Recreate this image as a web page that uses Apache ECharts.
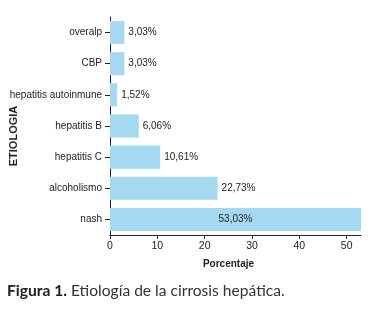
<!DOCTYPE html>
<html>
<head>
<meta charset="utf-8">
<script src="https://cdn.jsdelivr.net/npm/echarts@6/dist/echarts.min.js"></script>
<style>
  html, body { margin: 0; padding: 0; background: #fff; }
  #chart { width: 373px; height: 322px; }
</style>
</head>
<body>
<div id="chart"></div>
<script>
const categories = ["nash", "alcoholismo", "hepatitis C", "hepatitis B", "hepatitis autoinmune", "CBP", "overalp"];
const values = [53.03, 22.73, 10.61, 6.06, 1.52, 3.03, 3.03];
const xTicks = [0, 10, 20, 30, 40, 50];

const FONT = "'Liberation Sans', Arial, sans-serif";

const myChart = echarts.init(document.getElementById("chart"));

const option = {
  animation: false,
  grid: { left: 110, right: 12, top: 17, bottom: 87, outerBoundsMode: "none" },
  xAxis: {
    type: "value",
    min: 0,
    max: 53.03,
    interval: 10,
    name: "Porcentaje",
    nameLocation: "middle",
    nameGap: 24,
    nameMoveOverlap: false,
    nameTextStyle: { fontFamily: FONT, fontSize: 10, fontWeight: "bold", color: "#222", padding: [0, 14, 0, 0] },
    axisLine: { show: true, lineStyle: { color: "#222", width: 1 } },
    axisTick: { show: true, length: 4, lineStyle: { color: "#222" } },
    axisLabel: {
      fontFamily: FONT, fontSize: 10.5, color: "#222", margin: 6,
      showMaxLabel: false,
      formatter: v => (xTicks.includes(v) ? String(v) : "")
    },
    splitLine: { show: false }
  },
  yAxis: {
    type: "category",
    data: categories,
    name: "ETIOLOGIA",
    nameLocation: "middle",
    nameGap: 91,
    nameRotate: 90,
    nameMoveOverlap: false,
    nameTextStyle: { fontFamily: FONT, fontSize: 11, fontWeight: "bold", color: "#222", padding: [0, 20, 0, 0] },
    axisLine: { show: true, lineStyle: { color: "#222", width: 1 } },
    axisTick: { show: true, alignWithLabel: true, length: 5, lineStyle: { color: "#222" } },
    axisLabel: { fontFamily: FONT, fontSize: 10, color: "#222", margin: 8 }
  },
  series: [{
    type: "bar",
    data: values.map((v, i) => ({
      value: v,
      label: i === 0 ? { position: "inside" } : { position: "right", distance: 4 }
    })),
    barCategoryGap: "26%",
    itemStyle: { color: "#a5d9f2" },
    label: {
      show: true,
      fontFamily: FONT,
      fontSize: 10,
      color: "#222",
      formatter: p => p.value.toFixed(2).replace(".", ",") + "%"
    }
  }],
  graphic: [{
    type: "text",
    left: 7,
    top: 283,
    style: {
      text: "{b|Figura 1.} Etiología de la cirrosis hepática.",
      rich: {
        b: { fontFamily: "Lato, 'Open Sans', sans-serif", fontSize: 15.6, fontWeight: "bold", fill: "#222" }
      },
      fontFamily: "Lato, 'Open Sans', sans-serif",
      fontSize: 15.6,
      fill: "#333"
    }
  }]
};

myChart.setOption(option);
</script>
</body>
</html>
